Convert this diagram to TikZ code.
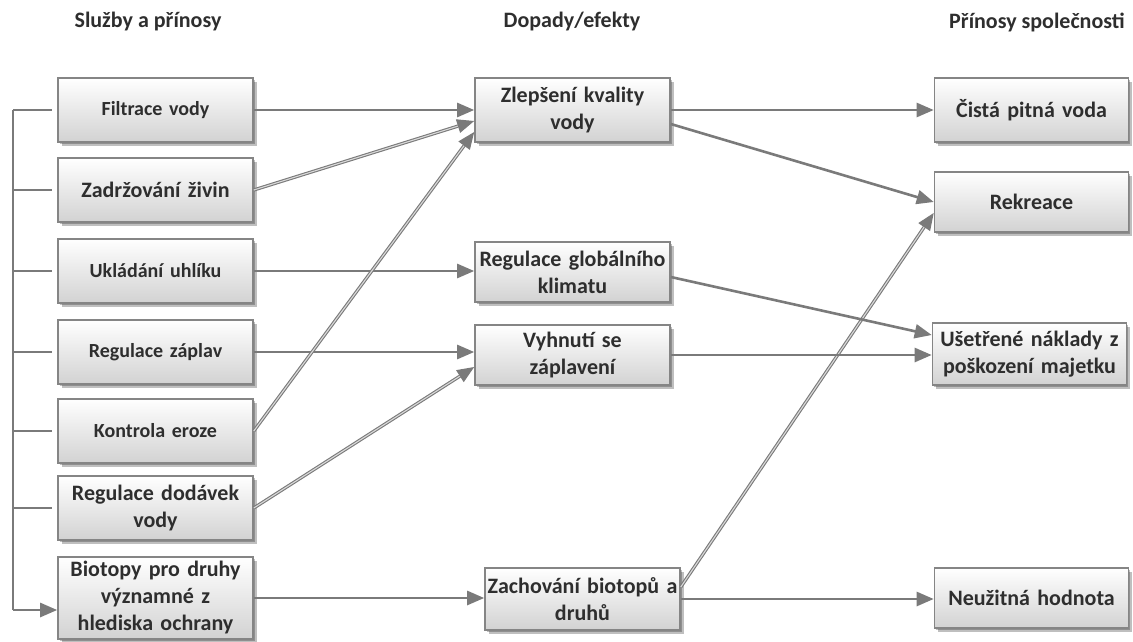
\documentclass[tikz,border=0pt]{standalone}
\usepackage{fontspec}
\setmainfont{Carlito}
\usetikzlibrary{arrows.meta,shadows}
\definecolor{linegray}{HTML}{7A7A7A}
\definecolor{framegray}{HTML}{858585}
\definecolor{inkgray}{HTML}{2E2E2E}
\definecolor{boxbottom}{HTML}{D2D2D2}
\tikzset{
  box/.style={draw=framegray, line width=1.6pt, top color=white, bottom color=boxbottom,
    minimum width=195pt, minimum height=64pt, text width=190pt, align=center,
    inner sep=2pt, text=inkgray, font=\bfseries\fontsize{22}{27}\selectfont,
    double copy shadow={shadow xshift=1.8pt, shadow yshift=-1.8pt, fill=black, opacity=0.25, draw=none}},
  small/.style={font=\bfseries\fontsize{20}{24}\selectfont},
  header/.style={text=inkgray, font=\bfseries\fontsize{22}{26}\selectfont},
  link/.style={draw=linegray, line width=2.6pt, -{Triangle[length=17pt, width=14pt]}},
  twin/.style={draw=linegray, line width=1.1pt, double=black!15, double distance=1.1pt,
    -{Triangle[length=17pt, width=14pt, fill=linegray]}},
  bracket/.style={draw=linegray, line width=2.6pt},
}
\begin{document}
\begin{tikzpicture}[x=1pt, y=-1pt]
\useasboundingbox (0,0) rectangle (1133,642);

% column headings
\node[header] (h1) at (148,22) {Služby a přínosy};
\node[header] (h2) at (572,22) {Dopady/efekty};
\node[header] (h3) at (1037,22) {Přínosy společnosti};

% services
\node[box, small] (fil) at (155.5,110) {Filtrace vody};
\node[box] (zad) at (155.5,190) {Zadržování živin};
\node[box, small] (ukl) at (155.5,271) {Ukládání uhlíku};
\node[box, small] (rza) at (155.5,352) {Regulace záplav};
\node[box, small] (kon) at (155.5,431) {Kontrola eroze};
\node[box] (rdo) at (155.5,508) {Regulace dodávek\\vody};
\node[box, minimum height=82pt] (bio) at (155.5,598) {Biotopy pro druhy\\významné z\\hlediska ochrany};

% impacts
\node[box] (zle) at (572.5,110) {Zlepšení kvality\\vody};
\node[box, minimum height=60pt] (rgk) at (572.5,272) {Regulace globálního\\klimatu};
\node[box, minimum height=60pt] (vyh) at (572.5,355) {Vyhnutí se\\záplavení};
\node[box, minimum height=62pt] (zac) at (582.5,599) {Zachování biotopů a\\druhů};

% benefits to society
\node[box, minimum width=193pt] (cis) at (1031.5,110) {Čistá pitná voda};
\node[box, minimum width=193pt, minimum height=60pt] (rek) at (1031.5,202) {Rekreace};
\node[box, minimum width=189pt, minimum height=62pt] (use) at (1029.5,354) {Ušetřené náklady z\\poškození majetku};
\node[box, minimum width=193pt, minimum height=60pt] (neu) at (1031.5,598) {Neužitná hodnota};

% bracket joining the services
\coordinate (bt) at (13,110);
\coordinate (bb) at (13,610);
\draw[bracket] (bt) -- (bb);
\foreach \n in {fil,zad,ukl,rza,kon,rdo}
  \draw[bracket, shorten >=5pt] (bt |- \n.west) -- (\n.west);
\draw[link] (bb) -- (bb -| bio.west);

% services -> impacts
\draw[link] (fil.east) -- (fil.east -| zle.west);
\draw[twin] (zad.east) -- ([yshift=-11pt]zle.west);
\draw[link] (ukl.east) -- (ukl.east -| rgk.west);
\draw[link] (rza.east) -- (rza.east -| vyh.west);
\draw[twin] (kon.east) -- ([yshift=-22pt]zle.west);
\draw[twin] (rdo.east) -- ([yshift=-12pt]vyh.west);
\draw[link] (bio.east) -- (bio.east -| zac.west);

% impacts -> benefits
\draw[link] (zle.west -| zle.east) -- (zle.west -| cis.west);
\draw[link] ([yshift=-14pt]zle.east) -- (rek.west);
\draw[twin] ([yshift=12pt]zac.east) -- ([yshift=-11pt]rek.west);
\draw[link] ([yshift=-5pt]rgk.east) -- ([yshift=19pt]use.west);
\draw[link] (vyh.east) -- (vyh.east -| use.west);
\draw[link] (zac.east) -- (zac.east -| neu.west);
\end{tikzpicture}
\end{document}
